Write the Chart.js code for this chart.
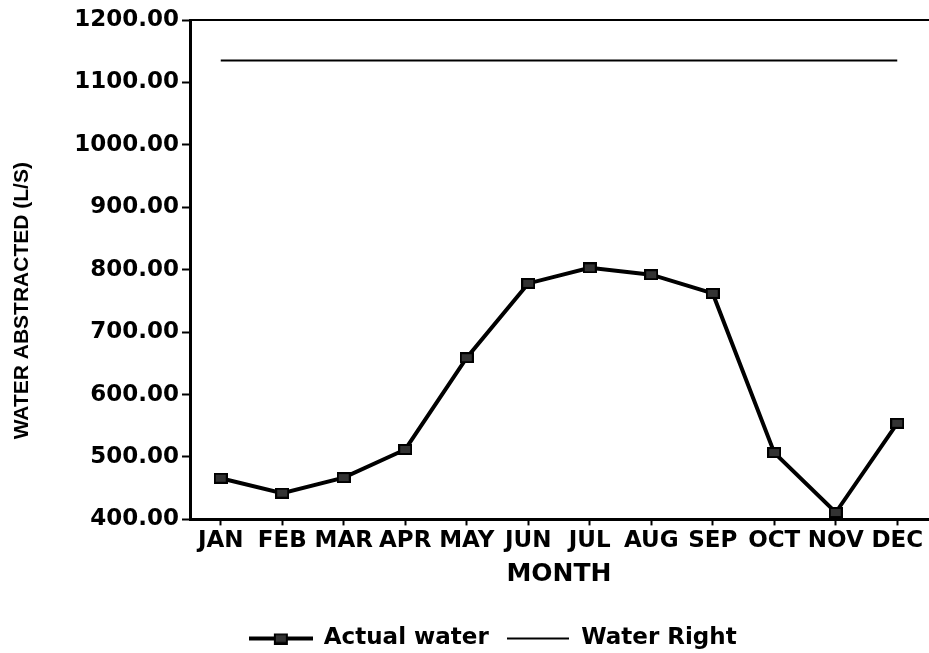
<!DOCTYPE html>
<html>
<head>
<meta charset="utf-8">
<title>Water abstracted</title>
<script src="https://cdn.jsdelivr.net/npm/chart.js@4.4.0/dist/chart.umd.min.js"></script>
<style>
    body { margin: 0; background: #fff; overflow: hidden; }
    #wrap { width: 936px; height: 660px; }
</style>
</head>
<body>
<div id="wrap"><canvas id="myChart" width="936" height="660"></canvas></div>
<script>
// data
const months = ["JAN", "FEB", "MAR", "APR", "MAY", "JUN", "JUL", "AUG", "SEP", "OCT", "NOV", "DEC"];
const actualWater = [466, 442, 467, 512, 659, 778, 803, 792, 762, 507, 411, 554];
const waterRight = [1135, 1135, 1135, 1135, 1135, 1135, 1135, 1135, 1135, 1135, 1135, 1135];
const yMin = 400;
const yMax = 1200;
const yStep = 100;
const seriesNames = ["Actual water", "Water Right"];
const yTitle = "WATER ABSTRACTED (L/S)";
const xTitle = "MONTH";

const tickFont = "'DejaVu Sans', sans-serif";

//square marker used on the line
function makeMarker() {
    let c = document.createElement("canvas");
    c.width = 14; c.height = 11;
    let g = c.getContext("2d");
    g.fillStyle = "#000";
    g.fillRect(0, 0, 14, 11);
    g.fillStyle = "#333";
    g.fillRect(2, 2, 10, 7);
    return c;
}
//legend icons
function makeLegendIcon(withMarker, w) {
    let c = document.createElement("canvas");
    c.width = w; c.height = 12;
    let g = c.getContext("2d");
    g.strokeStyle = "#000";
    g.lineWidth = withMarker ? 4 : 2;
    g.beginPath();
    g.moveTo(0, 6);
    g.lineTo(w, 6);
    g.stroke();
    if (withMarker) {
        g.drawImage(makeMarker(), w / 2 - 7, 0.5);
    }
    return c;
}

const marker = makeMarker();
const legendIcons = [makeLegendIcon(true, 64), makeLegendIcon(false, 62)];

//rotated y title, sits a bit below the axis middle like the original
const yTitlePlugin = {
    id: "yTitlePlugin",
    afterDraw(chart) {
        let ctx = chart.ctx;
        let area = chart.chartArea;
        ctx.save();
        ctx.translate(22, (area.top + area.bottom) / 2 + 31);
        ctx.rotate(-Math.PI / 2);
        ctx.font = "bold 21px 'Liberation Sans', Arial, sans-serif";
        ctx.fillStyle = "#000";
        ctx.textAlign = "center";
        ctx.textBaseline = "middle";
        ctx.fillText(yTitle, 0, 0);
        ctx.restore();
    }
};

let ctx = document.getElementById("myChart").getContext("2d");
let myChart = new Chart(ctx, {
    type: "line",
    data: {
        labels: months,
        datasets: [{
            label: seriesNames[0],
            data: actualWater,
            borderColor: "#000",
            backgroundColor: "#000",
            borderWidth: 4,
            pointStyle: marker,
            tension: 0
        }, {
            label: seriesNames[1],
            data: waterRight,
            borderColor: "#000",
            backgroundColor: "#000",
            borderWidth: 2,
            pointRadius: 0,
            pointHoverRadius: 0,
            tension: 0
        }]
    },
    options: {
        responsive: false,
        animation: false,
        layout: {
            // left padding only nudges the legend right, y axis width is fixed below
            padding: { top: 12, right: 2, left: 52, bottom: 0 }
        },
        plugins: {
            tooltip: { enabled: false },
            legend: {
                position: "bottom",
                labels: {
                    usePointStyle: true,
                    pointStyleWidth: 63,
                    padding: 18,
                    color: "#000",
                    font: { family: tickFont, size: 23, weight: "bold" },
                    generateLabels(chart) {
                        return chart.data.datasets.map((ds, i) => ({
                            text: ds.label,
                            pointStyle: legendIcons[i],
                            fillStyle: "#000",
                            strokeStyle: "#000",
                            lineWidth: 0,
                            fontColor: "#000",
                            hidden: false,
                            datasetIndex: i
                        }));
                    }
                }
            }
        },
        scales: {
            x: {
                offset: true,
                grid: {
                    drawOnChartArea: false,
                    tickLength: 6,
                    tickColor: "#000",
                    tickWidth: 2
                },
                border: { color: "#000", width: 3 },
                ticks: {
                    autoSkip: false,
                    maxRotation: 0,
                    padding: 2,
                    color: "#000",
                    font: { family: tickFont, size: 23, weight: "bold" }
                },
                title: {
                    display: true,
                    text: xTitle,
                    color: "#000",
                    padding: { top: 2, bottom: 20 },
                    font: { family: tickFont, size: 25, weight: "bold" }
                }
            },
            x2: {
                position: "top",
                grid: { display: false },
                ticks: { display: false },
                border: { color: "#000", width: 2 }
            },
            y: {
                min: yMin,
                max: yMax,
                grid: {
                    drawOnChartArea: false,
                    tickLength: 8,
                    tickColor: "#000",
                    tickWidth: 2
                },
                border: { color: "#000", width: 3 },
                ticks: {
                    stepSize: yStep,
                    padding: 3,
                    color: "#000",
                    font: { family: tickFont, size: 23, weight: "bold" },
                    callback: v => v.toFixed(2)
                },
                afterFit(scale) {
                    scale.width = 138;
                }
            }
        }
    },
    plugins: [yTitlePlugin]
});
</script>
</body>
</html>
